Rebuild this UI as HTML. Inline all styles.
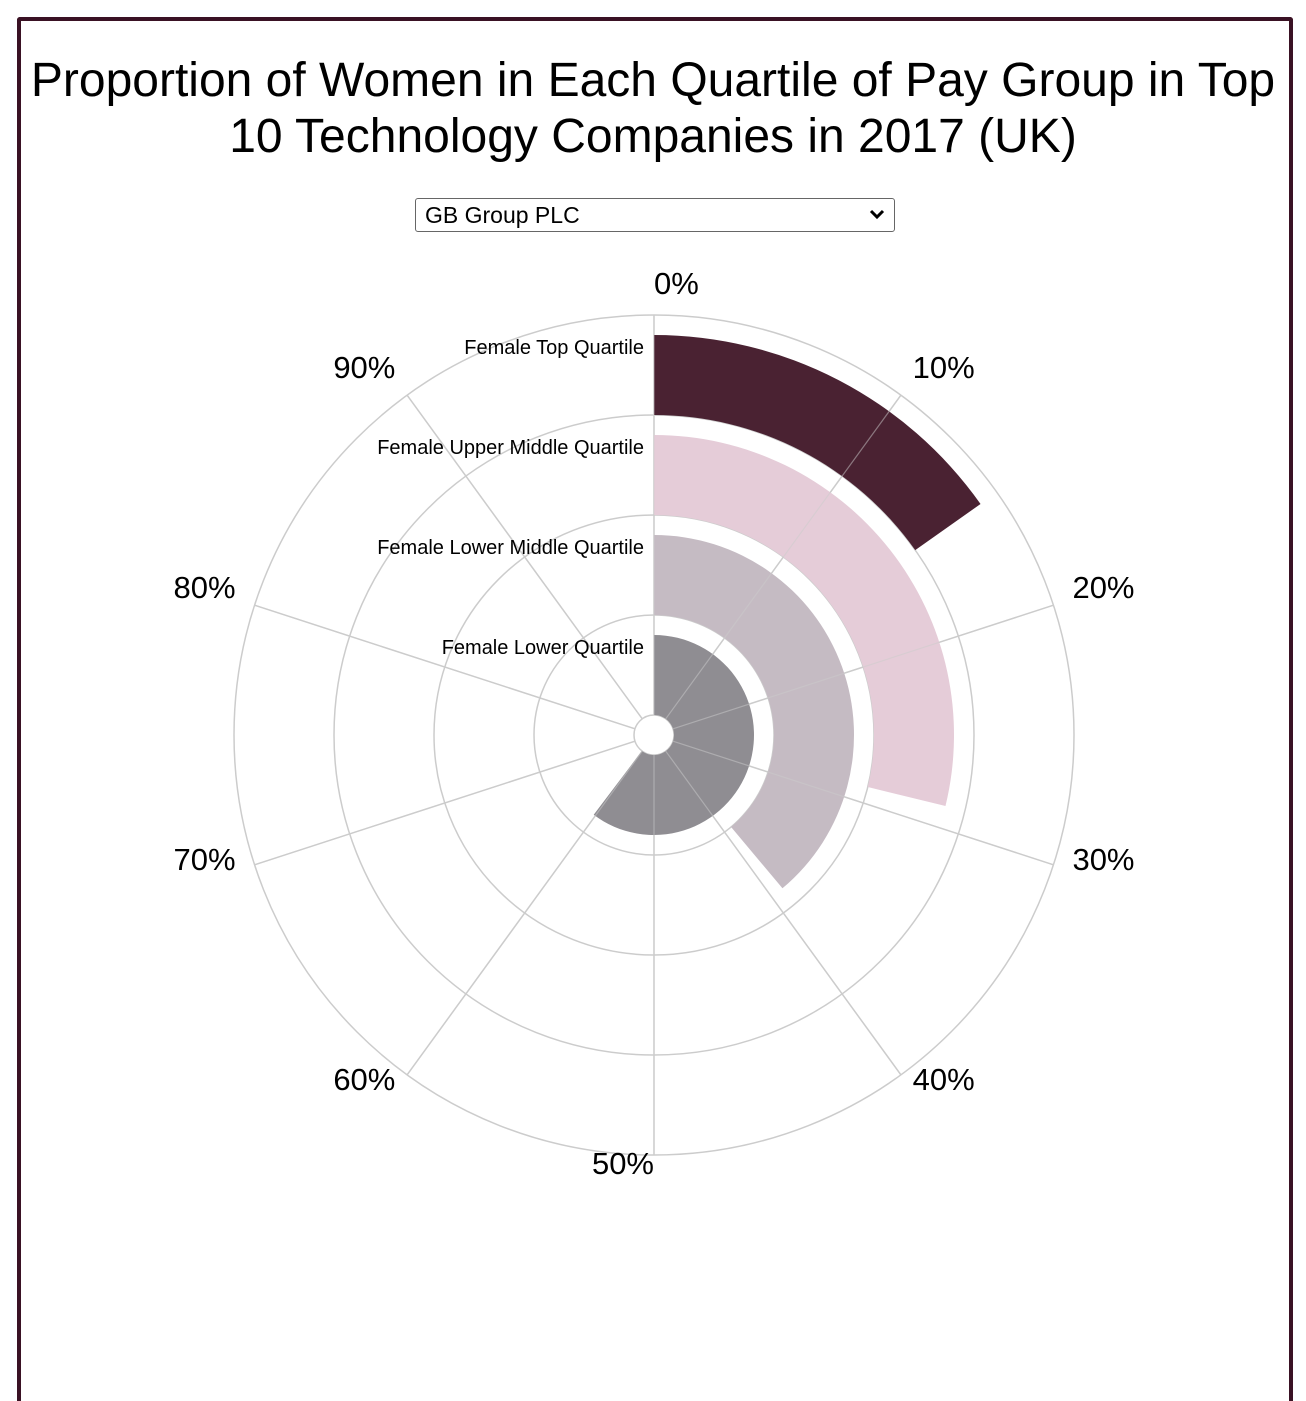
<!DOCTYPE html>
<html><head><meta charset="utf-8">
<style>
html,body{margin:0;padding:0;background:#fff;width:1306px;height:1382px;overflow:hidden;font-family:"Liberation Sans",Arial,sans-serif;}
#frame{position:absolute;left:17px;top:17px;width:1268px;height:1380px;border:4px solid #3a1224;border-bottom:none;border-radius:3px 3px 0 0;}
#title{position:absolute;left:0;top:53px;width:1306px;text-align:center;font-size:48px;line-height:56px;color:#000;white-space:nowrap;}
#sel{position:absolute;left:415px;top:198px;width:480px;height:34px;border:1px solid #666;border-radius:3px;box-sizing:border-box;font-size:23px;line-height:32px;padding-left:9px;color:#000;}
#sel span.chev{position:absolute;right:8px;top:0;font-size:18px;}
svg{position:absolute;left:0;top:0;}
</style></head><body>
<div id="frame"></div>
<div id="title">Proportion of Women in Each Quartile of Pay Group in Top<br>10 Technology Companies in 2017 (UK)</div>
<div id="sel">GB Group PLC<span class="chev"><svg width="18" height="32" style="position:static"><path d="M3 12 L9 18 L15 12" stroke="#000" stroke-width="3" fill="none"/></svg></span></div>
<svg id="chart" width="1306" height="1382"></svg>
<script>
const categories=["Female Lower Quartile","Female Lower Middle Quartile","Female Upper Middle Quartile","Female Top Quartile"];
const values=[60.3,38.9,28.8,15.2];
const tickValues=[0,10,20,30,40,50,60,70,80,90];
const tickLabels=["0%","10%","20%","30%","40%","50%","60%","70%","80%","90%"];
const colors=["#8f8d92","#c5bbc3","#e5ccd8","#4a2232"];
const NS="http://www.w3.org/2000/svg";
const svg=document.getElementById('chart');
const cx=654,cy=735;
const ang=v=>v/100*2*Math.PI;
const pt=(r,a)=>[cx+r*Math.sin(a),cy-r*Math.cos(a)];
function mk(t,attrs){const e=document.createElementNS(NS,t);for(const k in attrs)e.setAttribute(k,attrs[k]);svg.appendChild(e);return e;}
[120,220,320,420].forEach((r,i)=>{
 const c=mk('circle',{cx:cx,cy:cy,r:r,fill:'none',stroke:'#ccc','stroke-width':1.5});
 
 
});
tickValues.forEach((v,i)=>{
 const a=ang(v);const p0=pt(20,a),p1=pt(420,a);
 const l=mk('line',{x1:p0[0],y1:p0[1],x2:p1[0],y2:p1[1],stroke:'#ccc','stroke-width':1.5});
 
 
 const p=pt(440,a);
 const t=mk('text',{x:p[0],y:p[1]-1,'font-size':31,'text-anchor':v<50?'start':'end',fill:'#000'});
 t.textContent=tickLabels[i];
 
 
});
mk('circle',{cx:cx,cy:cy,r:20,fill:'#fff',stroke:'#ccc','stroke-width':1.5});
categories.forEach((c,i)=>{
 const r0=20+i*100,r1=r0+80;const a=ang(values[i]);const large=a>Math.PI?1:0;
 const A=pt(r1,0),B=pt(r1,a),C=pt(r0,a),D=pt(r0,0);
 const d=`M${A[0]},${A[1]} A${r1},${r1} 0 ${large} 1 ${B[0]},${B[1]} L${C[0]},${C[1]} A${r0},${r0} 0 ${large} 0 ${D[0]},${D[1]} Z`;
 const p=mk('path',{d:d,fill:colors[i]});
 
 
});
tickValues.forEach(v=>{const a=ang(v);const p0=pt(20,a),p1=pt(420,a);
 const l=mk('line',{x1:p0[0],y1:p0[1],x2:p1[0],y2:p1[1],stroke:'#ccc','stroke-width':1.2,opacity:0.5});
 
 
});
categories.forEach((c,i)=>{
 const r=20+i*100+80;
 const t=mk('text',{x:644,y:cy-r+19,'font-size':20,'text-anchor':'end',fill:'#000'});
 t.textContent=c;
 
 
});
</script>
</body></html>
